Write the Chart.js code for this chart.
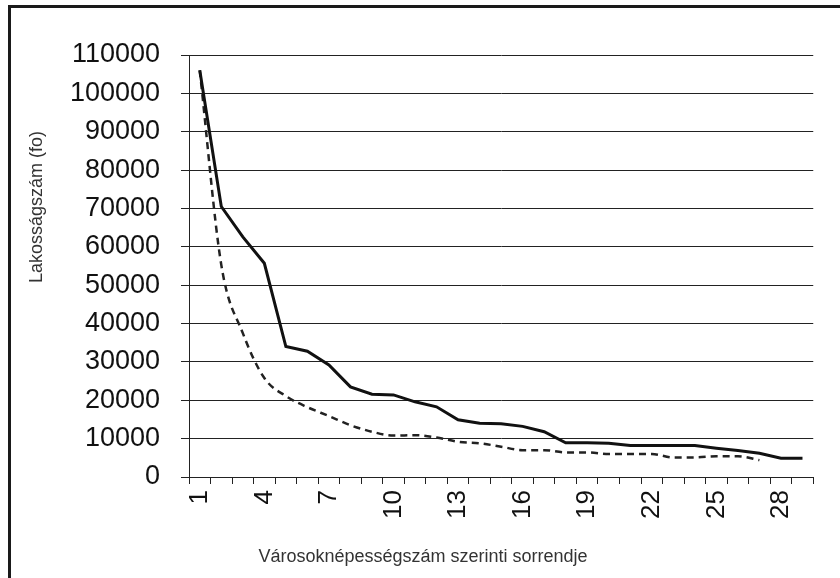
<!DOCTYPE html>
<html>
<head>
<meta charset="utf-8">
<script src="https://cdn.jsdelivr.net/npm/chart.js@4.4.0/dist/chart.umd.min.js"></script>
<style>
  body { margin: 0; background: #fff; }
  .frame { position: absolute; left: 8px; top: 5px; width: 840px; height: 600px;
           border-top: 3px solid #1a1a1a; border-left: 3px solid #1a1a1a; }
  .chartBox { position: absolute; left: 0; top: 0; width: 840px; height: 578px; }
</style>
</head>
<body>
<div class="frame"></div>
<div class="chartBox"><canvas id="line-chart" width="840" height="578"></canvas></div>
<script>
'use strict'

//városok sorszáma
const ranks = [];
for (let i = 1; i <= 29; i++) ranks.push(String(i));
//tényleges lakosságszám
const population = [106000, 70500, 62600, 55700, 34000, 32800, 29200, 23500, 21600, 21400,
    19600, 18300, 14900, 14000, 13900, 13200, 11800, 8900, 8900, 8800,
    8200, 8200, 8200, 8200, 7500, 6900, 6200, 4900, 4900];
//rang-nagyság szabály szerinti görbe
const rankSize = [106000, 55300, 37500, 25800, 21100, 18200, 15900, 13500, 11800, 10800,
    10900, 10300, 9200, 8800, 7900, 7000, 7000, 6400, 6400, 6000,
    6000, 6000, 5100, 5100, 5400, 5400, 4400, null, null];
//tengely feliratok
const yTitle = 'Lakosságszám (fo)';
const xTitle = 'Városoknépességszám szerinti sorrendje';

//tengelycímek kirajzolása
const axisTitles = {
    id: 'axisTitles',
    afterDraw(chart) {
        const ctx = chart.ctx;
        ctx.save();
        ctx.fillStyle = '#333';
        ctx.font = '18px "Liberation Sans", Arial, sans-serif';
        ctx.textAlign = 'center';
        ctx.textBaseline = 'middle';
        ctx.fillText(xTitle, 423, 557);
        ctx.translate(37, 207);
        ctx.rotate(-Math.PI / 2);
        ctx.fillText(yTitle, 0, 0);
        ctx.restore();
    }
};

new Chart(document.getElementById('line-chart'), {
    type: 'line',
    data: {
        labels: ranks,
        datasets: [
            {
                label: 'Lakosságszám',
                data: population,
                borderColor: '#111',
                borderWidth: 3,
                pointRadius: 0,
                tension: 0
            },
            {
                label: 'Rang-nagyság',
                data: rankSize,
                borderColor: '#222',
                borderWidth: 2.5,
                borderDash: [7, 5],
                pointRadius: 0,
                cubicInterpolationMode: 'monotone'
            }
        ]
    },
    options: {
        responsive: false,
        animation: false,
        layout: { padding: { top: 55, right: 18, left: 0, bottom: 0 } },
        plugins: {
            legend: { display: false },
            tooltip: { enabled: false }
        },
        scales: {
            x: {
                offset: true,
                grid: { offset: true, drawOnChartArea: false, drawTicks: true, tickLength: 7, color: '#222' },
                border: { color: '#222', width: 1 },
                ticks: {
                    autoSkip: false,
                    maxRotation: 90,
                    minRotation: 90,
                    padding: 6,
                    color: '#111',
                    font: { family: '"Liberation Sans", Arial, sans-serif', size: 26 },
                    callback: function (value, index) {
                        return index % 3 === 0 ? this.getLabelForValue(value) : '';
                    }
                },
                afterFit(scale) { scale.height = 101; }
            },
            y: {
                min: 0,
                max: 110000,
                ticks: {
                    stepSize: 10000,
                    padding: 21,
                    color: '#111',
                    font: { family: '"Liberation Sans", Arial, sans-serif', size: 27 },
                    callback: function (value) {
                        return String(value);
                    }
                },
                grid: { color: '#222', lineWidth: 1, tickLength: 8 },
                border: { color: '#222', width: 1 },
                afterFit(scale) { scale.width = 189; }
            }
        }
    },
    plugins: [axisTitles]
});
</script>
</body>
</html>
